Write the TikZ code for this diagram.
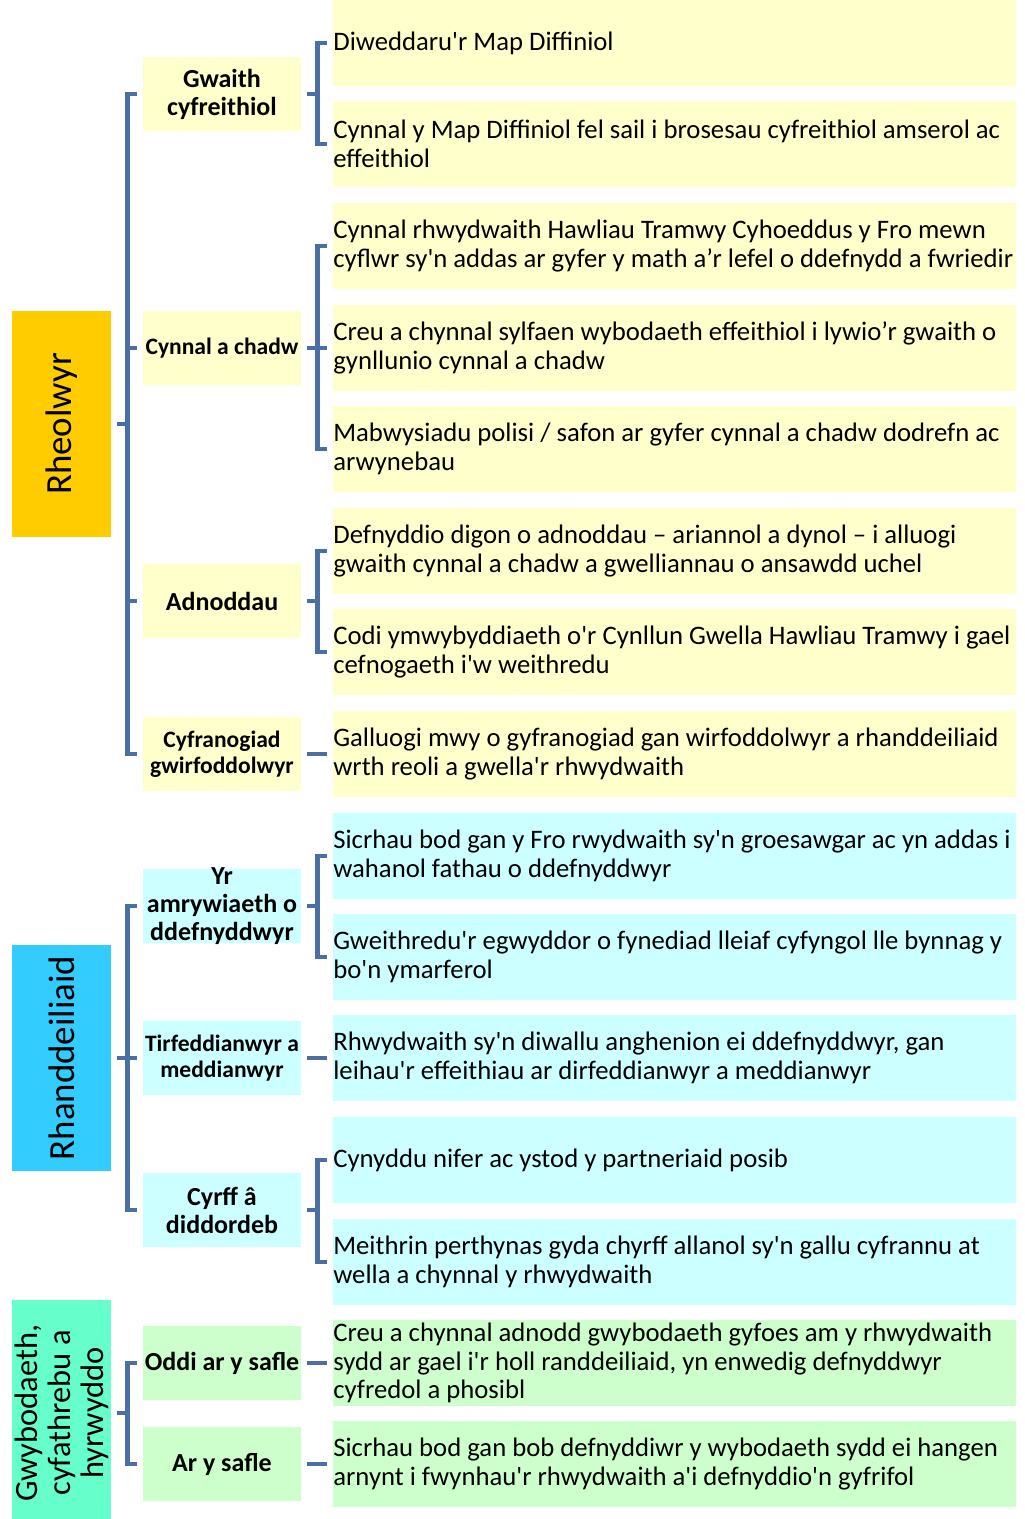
\documentclass[tikz,border=0pt]{standalone}
\usepackage{fontspec}
\setmainfont{Carlito}[Ligatures=TeXOff]
\definecolor{brakblue}{RGB}{74,111,165}
\definecolor{mgrgold}{RGB}{255,204,0}
\definecolor{mgryellow}{RGB}{255,255,204}
\definecolor{stkblue}{RGB}{51,204,255}
\definecolor{stkcyan}{RGB}{204,255,255}
\definecolor{infmint}{RGB}{102,255,204}
\definecolor{infgreen}{RGB}{204,255,204}
\tikzset{
  % grid is in pixels of the page: 1px = 0.02cm
  catbox/.style={rotate=90, minimum width=4.52cm, minimum height=1.98cm,
    inner sep=0pt, align=flush center, font=\fontsize{21}{21}\selectfont},
  subbox/.style={minimum width=3.16cm, minimum height=1.48cm, inner sep=0pt,
    align=flush center, font=\bfseries\fontsize{14.8}{16}\selectfont},
  subsmall/.style={subbox, font=\bfseries\fontsize{13.4}{15}\selectfont},
  itembox/.style={minimum height=1.72cm, inner sep=0pt, text width=13.66cm,
    align=flush left, anchor=west, font=\fontsize{15.2}{16.4}\selectfont},
  brak/.style={draw=brakblue, line width=2.5pt, shorten <=0.12cm, shorten >=0.12cm}
}
\begin{document}
\begin{tikzpicture}[x=0.02cm, y=-0.02cm]
  \useasboundingbox (0,0) rectangle (1025,1519);

  % left column: the three groups (rotated, so .south is the right side)
  \node[catbox, fill=mgrgold] (c1) at (61.5,424) {Rheolwyr};
  \node[catbox, fill=stkblue] (c2) at (61.5,1058) {Rhanddeiliaid};
  % runs past the bottom of the page
  \node[catbox, fill=infmint, font=\fontsize{18.5}{18.7}\selectfont]
        (c3) at (61.5,1413) {Gwybodaeth,\\cyfathrebu a\\hyrwyddo};

  % middle column
  \node[subbox, fill=mgryellow] (s1) at (222,94) {Gwaith\\cyfreithiol};
  \node[subsmall, fill=mgryellow] (s2) at (222,348) {Cynnal a chadw};
  \node[subbox, fill=mgryellow] (s3) at (222,601) {Adnoddau};
  \node[subsmall, fill=mgryellow] (s4) at (222,754) {Cyfranogiad\\gwirfoddolwyr};
  \node[subbox, fill=stkcyan, inner ysep=-0.1cm] (s5) at (222,906)
        {Yr\\amrywiaeth o\\ddefnyddwyr};
  \node[subsmall, fill=stkcyan] (s6) at (222,1058) {Tirfeddianwyr a\\meddianwyr};
  \node[subbox, fill=stkcyan] (s7) at (222,1210) {Cyrff â\\diddordeb};
  \node[subbox, fill=infgreen] (s8) at (222,1363) {Oddi ar y safle};
  \node[subbox, fill=infgreen] (s9) at (222,1464) {Ar y safle};

  % right column
  \node[itembox, fill=mgryellow] (i1) at (333,43) {Diweddaru'r Map Diffiniol};
  \node[itembox, fill=mgryellow] (i2) at (333,144)
    {Cynnal y Map Diffiniol fel sail i brosesau cyfreithiol amserol ac\\effeithiol};
  \node[itembox, fill=mgryellow] (i3) at (333,246)
    {Cynnal rhwydwaith Hawliau Tramwy Cyhoeddus y Fro mewn\\cyflwr sy'n addas ar gyfer y math a’r lefel o ddefnydd a fwriedir};
  \node[itembox, fill=mgryellow] (i4) at (333,348)
    {Creu a chynnal sylfaen wybodaeth effeithiol i lywio’r gwaith o\\gynllunio cynnal a chadw};
  \node[itembox, fill=mgryellow] (i5) at (333,449)
    {Mabwysiadu polisi / safon ar gyfer cynnal a chadw dodrefn ac\\arwynebau};
  \node[itembox, fill=mgryellow] (i6) at (333,551)
    {Defnyddio digon o adnoddau – ariannol a dynol – i alluogi\\gwaith cynnal a chadw a gwelliannau o ansawdd uchel};
  \node[itembox, fill=mgryellow] (i7) at (333,652)
    {Codi ymwybyddiaeth o'r Cynllun Gwella Hawliau Tramwy i gael\\cefnogaeth i'w weithredu};
  \node[itembox, fill=mgryellow] (i8) at (333,754)
    {Galluogi mwy o gyfranogiad gan wirfoddolwyr a rhanddeiliaid\\wrth reoli a gwella'r rhwydwaith};
  \node[itembox, fill=stkcyan] (i9) at (333,856)
    {Sicrhau bod gan y Fro rwydwaith sy'n groesawgar ac yn addas i\\wahanol fathau o ddefnyddwyr};
  \node[itembox, fill=stkcyan] (i10) at (333,957)
    {Gweithredu'r egwyddor o fynediad lleiaf cyfyngol lle bynnag y\\bo'n ymarferol};
  \node[itembox, fill=stkcyan] (i11) at (333,1058)
    {Rhwydwaith sy'n diwallu anghenion ei ddefnyddwyr, gan\\leihau'r effeithiau ar dirfeddianwyr a meddianwyr};
  \node[itembox, fill=stkcyan] (i12) at (333,1160)
    {Cynyddu nifer ac ystod y partneriaid posib};
  \node[itembox, fill=stkcyan] (i13) at (333,1262)
    {Meithrin perthynas gyda chyrff allanol sy'n gallu cyfrannu at\\wella a chynnal y rhwydwaith};
  \node[itembox, fill=infgreen] (i14) at (333,1363)
    {Creu a chynnal adnodd gwybodaeth gyfoes am y rhwydwaith\\sydd ar gael i'r holl randdeiliaid, yn enwedig defnyddwyr\\cyfredol a phosibl};
  \node[itembox, fill=infgreen] (i15) at (333,1464)
    {Sicrhau bod gan bob defnyddiwr y wybodaeth sydd ei hangen\\arnynt i fwynhau'r rhwydwaith a'i defnyddio'n gyfrifol};

  % brackets: group -> middle column
  \foreach \s in {s1,s2,s3,s4}
    \draw[brak] (c1.south) -- ++(16,0) |- (\s.west);
  \foreach \s in {s5,s6,s7}
    \draw[brak] (c2.south) -- ++(16,0) |- (\s.west);
  \foreach \s in {s8,s9}
    \draw[brak] (c3.south) -- ++(16,0) |- (\s.west);

  % brackets: middle column -> right column
  \foreach \s/\i in {s1/i1,s1/i2,s2/i3,s2/i4,s2/i5,s3/i6,s3/i7,s4/i8,
                     s5/i9,s5/i10,s6/i11,s7/i12,s7/i13,s8/i14,s9/i15}
    \draw[brak] (\s.east) -- ++(16,0) |- (\i.west);
\end{tikzpicture}
\end{document}
